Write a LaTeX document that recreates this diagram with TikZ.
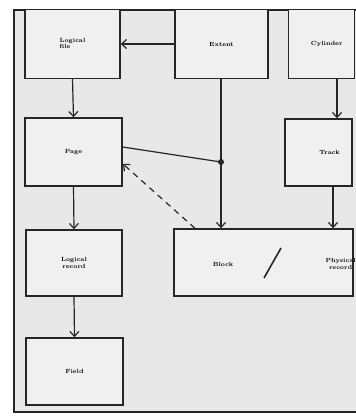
\documentclass[tikz,border=0pt]{standalone}
\usetikzlibrary{arrows.meta}
\begin{document}
\begin{tikzpicture}[x=1pt,y=-1pt,
  box/.style={draw=black!85,line width=1.4pt,fill=gray!12,inner sep=0pt,align=center,
    font=\fontsize{6}{6.5}\selectfont\bfseries},
  conn/.style={line width=1.2pt,draw=black!85,-{Straight Barb[length=5pt,width=9pt,line width=1.2pt]}},
  plain/.style={line width=1.2pt,draw=black!85}]
\useasboundingbox (0,0) rectangle (356,416);
\fill[white] (0,0) rectangle (356,416);
\fill[gray!18] (14,10) rectangle (356,412);
\draw[line width=1.4pt,black!85] (356,10) -- (14,10) -- (14,412) -- (356,412);
% boxes
\node[box,minimum width=95pt,minimum height=69pt] (lfile) at (72.5,44) {\begin{tabular}{@{}l@{}}Logical\\file\end{tabular}};
\node[box,minimum width=93pt,minimum height=69pt] (extent) at (221.5,44) {Extent};
\node[box,minimum width=66pt,minimum height=69pt,anchor=west] (cyl) at (288,44) {\hspace*{10pt}Cylinder};
\node[box,minimum width=97pt,minimum height=68pt] (page) at (73.5,152) {Page};
\node[box,minimum width=67pt,minimum height=67pt] (track) at (318.5,152.5) {\hspace*{22pt}Track};
\node[box,minimum width=96pt,minimum height=66pt] (lrec) at (74,263) {Logical\\record};
\node[box,minimum width=179pt,minimum height=67pt] (block) at (263.5,262.5) {};
\node[box,minimum width=97pt,minimum height=67pt] (field) at (74.5,371.5) {Field};
\node[font=\fontsize{6}{6.5}\selectfont\bfseries] (blk) at (223,264) {Block};
\node[font=\fontsize{6}{6.5}\selectfont\bfseries,align=center,anchor=west] (phys) at (322,264) {Physical\\record};
\coordinate (dot) at (221,162);
\coordinate (s1) at (264,278);
\coordinate (s2) at (281,248);
% connectors
\draw[conn] (extent.west) -- (lfile.east);
\draw[conn] (lfile.south) -- (page.north);
\draw[conn] (page.south) -- (lrec.north);
\draw[conn] (lrec.south) -- (field.north);
\draw[conn] (extent.south -| dot) -- (block.north -| dot);
\draw[plain] (page.east |- 0,147) -- (dot);
\fill[black!85] (dot) circle (3pt);
\draw[conn] (cyl.south -| 337,0) -- (track.north -| 337,0);
\draw[conn] (track.south -| 333,0) -- (block.north -| 333,0);
\draw[conn,dashed,dash pattern=on 6pt off 5pt] (block.north -| 195,0) -- (123,164);
\draw[line width=1.6pt,black!85] (s1) -- (s2);
\end{tikzpicture}
\end{document}
